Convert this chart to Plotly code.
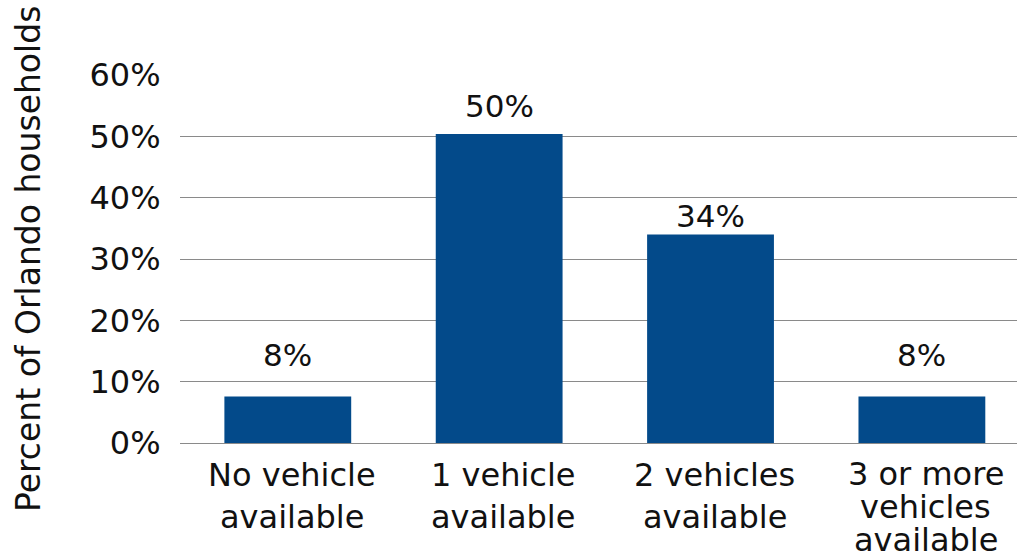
import plotly.graph_objects as go

# Household vehicle availability, Orlando
categories = ["No vehicle<br>available", "1 vehicle<br>available",
              "2 vehicles<br>available", "3 or more<br>vehicles<br>available"]
shares = [7.6, 50.4, 34.0, 7.6]
y_ticks = [0, 10, 20, 30, 40, 50, 60]
y_tick_labels = ["0%", "10%", "20%", "30%", "40%", "50%", "60%"]
y_title = "Percent of Orlando households"

FONT = "DejaVu Sans, sans-serif"
BAR_COLOR = "#034a8a"
GRID_COLOR = "#8a8a8a"
TEXT_COLOR = "#111111"

W, H = 1017, 557
M_L, M_R, M_T, M_B = 180, 0, 75, 114

x_pos = list(range(len(categories)))

fig = go.Figure(
    go.Bar(
        x=x_pos,
        y=shares,
        width=0.6,
        marker=dict(color=BAR_COLOR, line=dict(width=0)),
        hoverinfo="skip",
    )
)

# value labels above each bar (lift above the bar top, in px)
label_lift = [21, 8, -2, 21]
for xi, v, lift in zip(x_pos, shares, label_lift):
    fig.add_annotation(
        x=xi, y=v, text=f"{v:.0f}%", showarrow=False,
        yanchor="bottom", yshift=lift,
        font=dict(family=FONT, size=31, color=TEXT_COLOR),
    )

# category labels under the axis, one annotation per text line
for xi, cat in zip(x_pos, categories):
    lines = cat.split("<br>")
    gap = 42 if len(lines) <= 2 else 33
    for i, line in enumerate(lines):
        fig.add_annotation(
            x=xi, y=0, text=line, showarrow=False,
            xanchor="center", yanchor="middle",
            xshift=4, yshift=-(31 + i * gap),
            height=gap - 1,
            font=dict(family=FONT, size=32, color=TEXT_COLOR),
        )

# vertical axis title, set in the left margin
fig.add_annotation(
    xref="paper", yref="paper",
    x=-(M_L - 28) / (W - M_L - M_R), y=0.5,
    xanchor="center", yanchor="middle",
    text=y_title, textangle=-90, showarrow=False,
    font=dict(family=FONT, size=33, color=TEXT_COLOR),
)

fig.update_layout(
    width=W,
    height=H,
    margin=dict(l=M_L, r=M_R, t=M_T, b=M_B, pad=0),
    paper_bgcolor="white",
    plot_bgcolor="white",
    showlegend=False,
    font=dict(family=FONT, color=TEXT_COLOR),
    xaxis=dict(
        range=[-0.51, 3.45],
        tickmode="array",
        tickvals=x_pos,
        showticklabels=False,
        showgrid=False,
        showline=False,
        zeroline=False,
        ticks="",
        automargin=False,
    ),
    yaxis=dict(
        range=[0, 60],
        tickmode="array",
        tickvals=y_ticks,
        ticktext=y_tick_labels,
        tickfont=dict(family=FONT, size=32, color=TEXT_COLOR),
        showgrid=True,
        gridcolor=GRID_COLOR,
        gridwidth=1,
        zeroline=True,
        zerolinecolor=GRID_COLOR,
        zerolinewidth=1,
        showline=False,
        ticks="outside",
        ticklen=12,
        tickcolor="rgba(0,0,0,0)",
        automargin=False,
    ),
)

fig.write_html("out.html")
